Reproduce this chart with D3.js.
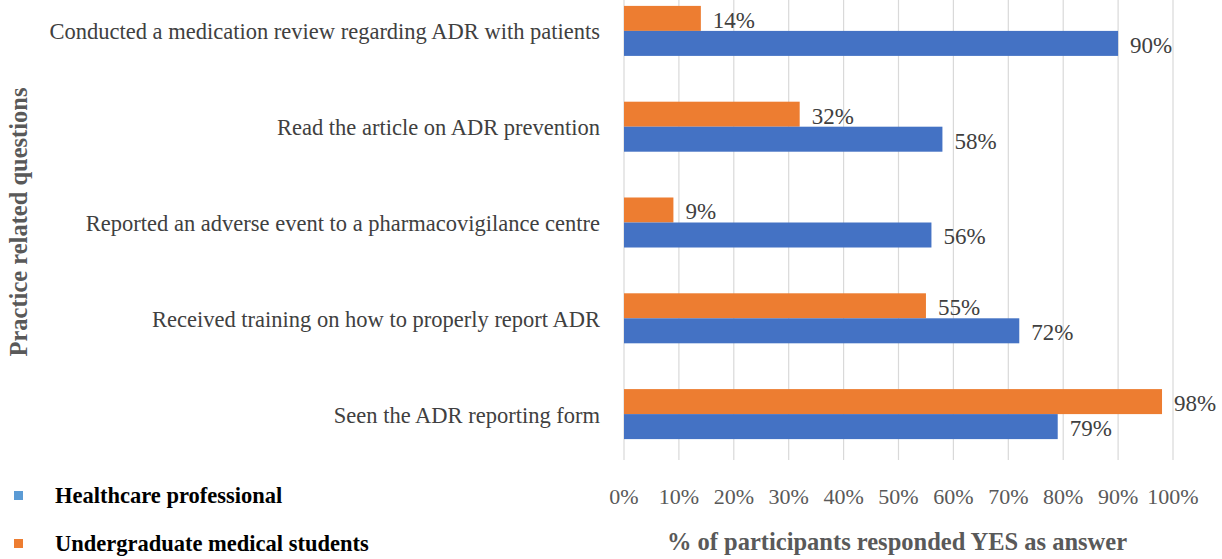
<!DOCTYPE html>
<html>
<head>
<meta charset="utf-8">
<title>ADR practice</title>
<style type="text/css">
    body{ margin:0; background:#fff; }
    svg{ display:block; }
    text{ font-family:"Liberation Serif","Times New Roman",serif; }
</style>
</head>
<body>
<div id="chart"></div>

<script src="https://cdn.jsdelivr.net/npm/d3@7"></script>
<script type="text/javascript">

    var categories = [
        "Conducted a medication review regarding ADR with patients",
        "Read the article on ADR prevention",
        "Reported an adverse event to a pharmacovigilance centre",
        "Received training on how to properly report ADR",
        "Seen the ADR reporting form"
    ];
    var healthcare = [90, 58, 56, 72, 79];
    var students   = [14, 32, 9, 55, 98];
    var xTicks = [0, 10, 20, 30, 40, 50, 60, 70, 80, 90, 100];

    var seriesNames = ["Undergraduate medical students", "Healthcare professional"];
    var barColors = {"Undergraduate medical students": "#ED7D31", "Healthcare professional": "#4472C4"};
    var legendColors = {"Healthcare professional": "#5B9BD5", "Undergraduate medical students": "#ED7D31"};

    var width = 1222, height = 559;
    var x0 = 624, x1 = 1173;

    var rows = categories.map(function(c, i){
        return {cat: c, values: {"Undergraduate medical students": students[i], "Healthcare professional": healthcare[i]}};
    });

    var xScale = d3.scaleLinear().domain([0, 100]).range([x0, x1]);
    var yScale = d3.scaleBand().domain(categories).range([-17, 462]).paddingInner(0.478).paddingOuter(0.239);
    var inner = d3.scaleBand().domain(seriesNames).range([0, yScale.bandwidth()]);

    var svg = d3.select('#chart').append('svg')
        .attr('width', width)
        .attr('height', height);

    // gridlines
    svg.append('g').selectAll('line')
        .data(xTicks)
        .enter().append('line')
        .attr('x1', d => xScale(d)).attr('x2', d => xScale(d))
        .attr('y1', 0).attr('y2', 460)
        .attr('stroke', '#d9d9d9').attr('stroke-width', 1.2);

    // x tick labels
    svg.append('g').selectAll('text')
        .data(xTicks)
        .enter().append('text')
        .attr('x', d => xScale(d))
        .attr('y', 496)
        .attr('text-anchor', 'middle')
        .attr('dominant-baseline', 'central')
        .attr('font-size', 22)
        .attr('fill', '#595959')
        .text(d => d + '%');

    // bars
    var groups = svg.append('g').selectAll('g')
        .data(rows)
        .enter().append('g')
        .attr('transform', d => 'translate(0,' + yScale(d.cat) + ')');

    var cells = groups.selectAll('g')
        .data(d => seriesNames.map(s => ({s: s, v: d.values[s]})))
        .enter().append('g');

    cells.append('rect')
        .attr('x', xScale(0))
        .attr('y', d => inner(d.s))
        .attr('width', d => xScale(d.v) - xScale(0))
        .attr('height', inner.bandwidth())
        .attr('fill', d => barColors[d.s]);

    cells.append('text')
        .attr('x', d => xScale(d.v) + 12)
        .attr('y', d => inner(d.s) + inner.bandwidth() / 2 + 2)
        .attr('dominant-baseline', 'central')
        .attr('font-size', 23)
        .attr('fill', '#404040')
        .text(d => d.v + '%');

    // category labels
    svg.append('g').selectAll('text')
        .data(categories)
        .enter().append('text')
        .attr('x', 600)
        .attr('y', d => yScale(d) + yScale.bandwidth() / 2 + 1)
        .attr('text-anchor', 'end')
        .attr('dominant-baseline', 'central')
        .attr('font-size', 22.5)
        .attr('fill', '#404040')
        .text(d => d);

    // axis titles
    svg.append('text')
        .attr('transform', 'translate(18,222) rotate(-90)')
        .attr('text-anchor', 'middle')
        .attr('dominant-baseline', 'central')
        .attr('font-size', 24.5)
        .attr('font-weight', 'bold')
        .attr('fill', '#595959')
        .text('Practice related questions');

    svg.append('text')
        .attr('x', 897)
        .attr('y', 541)
        .attr('text-anchor', 'middle')
        .attr('dominant-baseline', 'central')
        .attr('font-size', 24.5)
        .attr('font-weight', 'bold')
        .attr('fill', '#595959')
        .text('% of participants responded YES as answer');

    // legend
    var legendNames = ["Healthcare professional", "Undergraduate medical students"];
    var legend = svg.append('g').selectAll('g')
        .data(legendNames)
        .enter().append('g')
        .attr('transform', (d, i) => 'translate(0,' + (495 + i * 48) + ')');

    legend.append('rect')
        .attr('x', 14).attr('y', -4)
        .attr('width', 9).attr('height', 9)
        .attr('fill', d => legendColors[d]);

    legend.append('text')
        .attr('x', 55).attr('y', 0)
        .attr('dominant-baseline', 'central')
        .attr('font-size', 22.5)
        .attr('font-weight', 'bold')
        .attr('fill', '#000')
        .text(d => d);

</script>
</body>
</html>
